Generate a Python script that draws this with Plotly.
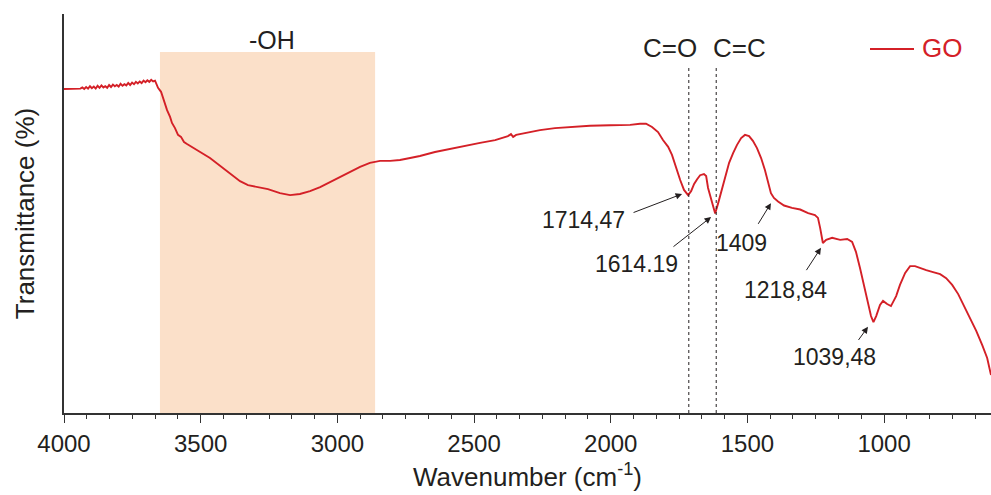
import plotly.graph_objects as go

# ---- data ----
wavenumber = [4000, 3960, 3940, 3933, 3926, 3919, 3912, 3905, 3898, 3891, 3884, 3877, 3870, 3863,
              3856, 3849, 3842, 3835, 3828, 3821, 3814, 3807, 3800, 3793, 3786, 3779, 3772, 3765,
              3758, 3751, 3744, 3737, 3730, 3723, 3716, 3709, 3702, 3695, 3688, 3681, 3674, 3667,
              3660, 3656, 3645,
              3638, 3630, 3623, 3612, 3605, 3594, 3583, 3572, 3561, 3550, 3532, 3502, 3466, 3429,
              3393, 3356, 3327, 3290, 3254, 3210, 3173, 3137, 3100, 3063, 3027, 2990, 2954, 2917,
              2881, 2844, 2807, 2771, 2734, 2698, 2643, 2588, 2533, 2478, 2423, 2376, 2365, 2357,
              2346, 2313, 2259, 2204, 2149, 2076, 2002, 1929, 1893, 1871, 1849, 1827, 1809, 1790,
              1776, 1761, 1746, 1732, 1717, 1706, 1695, 1684, 1673, 1659, 1651, 1644, 1633, 1626,
              1618, 1607, 1596, 1582, 1567, 1552, 1538, 1523, 1509, 1494, 1480, 1465, 1450, 1436,
              1425, 1414, 1403, 1388, 1366, 1337, 1307, 1278, 1253, 1242, 1234, 1224, 1212, 1190,
              1161, 1135, 1117, 1103, 1088, 1073, 1059, 1048, 1039, 1029, 1015, 1004, 989, 975,
              956, 942, 923, 905, 887, 868, 846, 821, 795, 773, 751, 729, 707, 685, 663, 641, 623, 609]
transmittance = [81.2, 81.2, 81.3, 81.6, 81.2, 81.7, 81.3, 81.9, 81.4, 81.8, 81.3, 82.0, 81.5, 82.1,
                 81.6, 81.9, 81.5, 82.2, 81.7, 82.3, 81.9, 82.2, 81.8, 82.5, 82.0, 82.4, 82.1, 82.7,
                 82.2, 82.8, 82.4, 83.0, 82.6, 83.1, 82.7, 83.3, 82.9, 83.4, 83.0, 83.5, 83.1, 83.3,
                 82.3, 81.5, 80.5,
                 79.0, 77.4, 75.9, 74.2, 72.7, 71.4, 69.7, 69.2, 67.9, 67.4, 66.7, 65.4, 63.9, 61.9,
                 59.9, 58.1, 57.1, 56.6, 56.1, 55.1, 54.6, 54.9, 55.6, 56.6, 57.9, 59.1, 60.4, 61.7,
                 62.7, 63.2, 63.2, 63.4, 63.9, 64.4, 65.4, 66.2, 66.9, 67.7, 68.4, 69.4, 69.9, 69.2,
                 69.7, 70.2, 70.9, 71.4, 71.7, 72.0, 72.1, 72.2, 72.5, 72.5, 71.7, 70.4, 68.4, 66.7,
                 64.7, 61.4, 58.4, 55.9, 54.6, 55.6, 57.4, 58.6, 59.6, 59.9, 59.4, 56.4, 53.4, 51.6,
                 50.0, 52.6, 55.4, 59.1, 62.7, 65.2, 67.2, 68.9, 69.7, 69.4, 68.2, 66.4, 63.9, 60.9,
                 57.9, 55.1, 53.9, 53.0, 52.0, 51.4, 51.0, 50.1, 49.6, 48.9, 46.4, 42.6, 43.4, 43.9,
                 43.4, 43.6, 42.9, 40.4, 36.3, 31.8, 27.6, 24.3, 22.8, 24.3, 27.1, 28.1, 27.3, 26.8,
                 29.3, 32.1, 35.1, 36.8, 36.8, 36.3, 35.8, 35.3, 34.8, 33.8, 32.1, 29.8, 26.8, 23.8,
                 20.6, 17.0, 13.8, 9.5]

x_ticks = [4000, 3500, 3000, 2500, 2000, 1500, 1000]
oh_band = [3649, 2862]
bond_lines = [1714.47, 1614.19]
bond_labels = ["C=O", "C=C"]
bond_label_x = [1783, 1528]

peak_labels = ["1714,47", "1614.19", "1409", "1218,84", "1039,48"]
peak_text_pos = [(2098, 48.4), (1907, 37.3), (1523, 42.6), (1359, 30.8), (1183, 14.0)]
peak_arrow_tail = [(1922, 50.1), (1776, 41.4), (1465, 46.9), (1289, 35.3), (1099, 17.8)]
peak_arrow_head = [(1739, 54.9), (1633, 49.1), (1414, 52.6), (1231, 41.4), (1059, 21.6)]

RED = "#d42027"
INK = "#231f20"
FONT = "Arial, Liberation Sans, sans-serif"

fig = go.Figure()
fig.add_trace(go.Scatter(x=wavenumber, y=transmittance, mode="lines", name="GO",
                         line=dict(color=RED, width=1.9), showlegend=False))

# -OH band
fig.add_shape(type="rect", xref="x", yref="y", x0=oh_band[0], x1=oh_band[1], y0=0, y1=90.5,
              fillcolor="#fbe0c9", line=dict(width=0), layer="below")
fig.add_annotation(x=(oh_band[0] + oh_band[1]) / 2 - 16, y=93.5, text="-OH", showarrow=False,
                   font=dict(family=FONT, size=25, color=INK))

# bond marker lines
for bx, lab, lx in zip(bond_lines, bond_labels, bond_label_x):
    fig.add_shape(type="line", xref="x", yref="y", x0=bx, x1=bx, y0=0, y1=87.2,
                  line=dict(color=INK, width=1, dash="dot"))
    fig.add_annotation(x=lx, y=91.5, text=lab, showarrow=False,
                       font=dict(family=FONT, size=26, color=INK))

# peak labels with arrows
for lab, tp, tail, head in zip(peak_labels, peak_text_pos, peak_arrow_tail, peak_arrow_head):
    fig.add_annotation(x=tp[0], y=tp[1], text=lab, showarrow=False,
                       font=dict(family=FONT, size=23, color=INK))
    fig.add_annotation(x=head[0], y=head[1], ax=tail[0], ay=tail[1], axref="x", ayref="y",
                       text=" ", showarrow=True, arrowhead=2, arrowsize=1.3, arrowwidth=1,
                       arrowcolor=INK, font=dict(size=1))

# legend (drawn manually to match reference)
fig.add_shape(type="line", xref="paper", yref="paper", x0=(870 - 64) / 927, x1=(914 - 64) / 927,
              y0=(413 - 49) / 399, y1=(413 - 49) / 399, line=dict(color=RED, width=2))
fig.add_annotation(xref="paper", yref="paper", x=(920 - 64) / 927, y=(413 - 48) / 399,
                   xanchor="left", yanchor="middle", text="GO", showarrow=False,
                   font=dict(family=FONT, size=26, color=RED))

fig.update_layout(
    width=991, height=495,
    margin=dict(l=64, r=0, t=14, b=82),
    plot_bgcolor="white", paper_bgcolor="white",
    font=dict(family=FONT, color=INK),
    xaxis=dict(range=[4000, 609], tickvals=x_ticks, ticktext=[str(v) for v in x_ticks],
               ticks="outside", ticklen=8, tickwidth=1.2, tickcolor="#333",
               minor=dict(dtick=500 / 6, tick0=4000, ticks="outside", ticklen=4,
                          tickwidth=1.2, tickcolor="#333"),
               showline=True, linecolor="#333", linewidth=1.5, showgrid=False, zeroline=False,
               tickfont=dict(family=FONT, size=24, color=INK),
               title=dict(text="Wavenumber (cm<sup>-1</sup>)", standoff=12,
                          font=dict(family=FONT, size=26, color=INK))),
    yaxis=dict(range=[0, 100], showline=True, linecolor="#333", linewidth=1.5,
               showticklabels=False, ticks="", showgrid=False, zeroline=False,
               title=dict(text="Transmittance (%)", standoff=20,
                          font=dict(family=FONT, size=26, color=INK))),
)

fig.write_html("out.html")
